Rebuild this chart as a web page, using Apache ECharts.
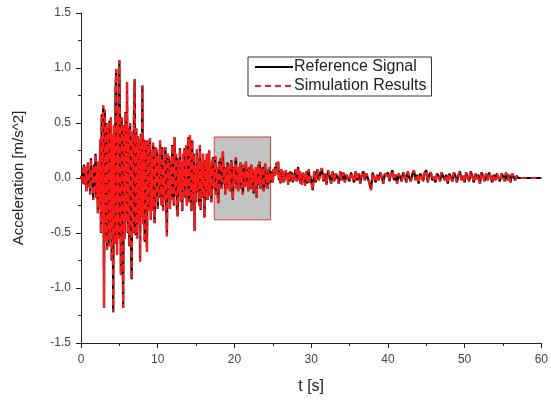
<!DOCTYPE html>
<html>
<head>
<meta charset="utf-8">
<script src="https://cdn.jsdelivr.net/npm/echarts@6/dist/echarts.min.js"></script>
<style>html,body{margin:0;padding:0;background:#fff;}#c{width:551px;height:400px;}</style>
</head>
<body>
<div id="c"></div>
<script>
// Segment A: 0 s to 29.9 s, sampled every 0.1 s
const segAStart = 0, segAStep = 0.1;
const accelA = [
 0.00, 0.02,-0.05, 0.08, 0.12,-0.06, 0.10,-0.12, 0.05, 0.14,-0.08, 0.06,-0.15, 0.18,-0.05, 0.10,-0.20, 0.12,-0.10, 0.22,-0.18, 0.08,-0.32, 0.15,-0.25,
 0.35,-0.50, 0.58,-0.40, 0.66,-1.18, 0.62,-0.55, 0.50,-0.65, 0.45,-0.62, 0.52,-0.50, 0.55,-0.75, 0.40,-1.22, 0.48,-0.60, 0.80, 0.99,-0.70, 0.62,-0.55,
 1.07, 0.30,-0.88, 0.55,-0.45,-1.18, 0.48,-0.55, 0.60,-0.40, 0.87,-0.50, 0.45,-0.62, 0.50,-0.45,-0.92, 0.42,-0.50, 0.55, 0.90,-0.52, 0.45,-0.55, 0.38,
-0.42, 0.35,-0.76, 0.40,-0.35, 0.84,-0.42, 0.35,-0.58, 0.34,-0.35,-0.67, 0.34,-0.30, 0.30, 0.36,-0.38, 0.25,-0.30, 0.32,-0.25,-0.41, 0.28,-0.20, 0.26,
-0.28, 0.20,-0.18, 0.34, 0.05,-0.25, 0.28,-0.30, 0.15,-0.20, 0.28,-0.22,-0.53, 0.22,-0.15, 0.20,-0.28, 0.15,-0.20, 0.30, 0.10,-0.25, 0.37,-0.15, 0.22,
-0.28,-0.35, 0.18,-0.15, 0.27,-0.22, 0.14,-0.30, 0.22,-0.08, 0.27,-0.18, 0.30,-0.25, 0.18, 0.37,-0.22, 0.39, 0.10,-0.30, 0.34,-0.18, 0.22,-0.48, 0.12,
-0.22, 0.26,-0.12, 0.18,-0.25, 0.30,-0.29, 0.14,-0.18, 0.22,-0.06,-0.36, 0.16,-0.12, 0.22,-0.20, 0.10, 0.25,-0.16, 0.12,-0.22, 0.12, 0.19,-0.10, 0.05,
 0.20,-0.15, 0.10,-0.12,-0.23, 0.15,-0.08, 0.18,-0.10, 0.12, 0.24,-0.05, 0.10,-0.15, 0.08,-0.10, 0.14,-0.06, 0.12,-0.12, 0.05, 0.16,-0.08,-0.20, 0.10,
-0.05, 0.12, 0.19,-0.10, 0.08,-0.12, 0.10,-0.04, 0.14,-0.10, 0.06,-0.15, 0.12, 0.02,-0.08, 0.15,-0.06, 0.08,-0.12, 0.10, 0.04,-0.10, 0.12,-0.05, 0.08,
-0.14, 0.06,-0.08, 0.10,-0.18, 0.05, 0.12,-0.06, 0.15,-0.10, 0.08,-0.04, 0.10,-0.12, 0.06, 0.13,-0.08, 0.04,-0.10, 0.08,-0.05, 0.10,-0.04, 0.02, 0.06,
-0.04, 0.08, 0.02, 0.10, 0.05, 0.14, 0.03, 0.15,-0.02, 0.06,-0.05, 0.08, 0.02, 0.06,-0.04, 0.05,-0.02, 0.07, 0.00, 0.04,-0.06, 0.05,-0.03, 0.06, 0.01,
 0.05,-0.04, 0.03,-0.02, 0.06, 0.08,-0.03, 0.04, 0.10,-0.02, 0.06,-0.05, 0.03,-0.06, 0.05,-0.03, 0.04,-0.07, 0.02, 0.06,-0.05, 0.03, 0.08,-0.04, 0.02
];
// Segment B: 30 s to 60 s, sampled every 0.2 s
const segBStart = 30, segBStep = 0.2;
const accelB = [
 0.03,-0.11, 0.06,-0.04, 0.08,-0.02, 0.05, 0.09,-0.03, 0.04,-0.06, 0.07, 0.02,-0.05, 0.06,-0.03, 0.04, 0.01,-0.05, 0.06,-0.02, 0.05,-0.04, 0.03, 0.02,
-0.03, 0.05, 0.01,-0.04, 0.06,-0.02, 0.04,-0.05, 0.03, 0.06,-0.02, 0.04, 0.03,-0.05,-0.11, 0.05, 0.06,-0.04, 0.03,-0.02, 0.05, 0.01,-0.05, 0.04, 0.02,
 0.05,-0.03, 0.04, 0.07,-0.02, 0.03,-0.05, 0.04, 0.01,-0.03, 0.05, 0.02,-0.04, 0.06, 0.00,-0.03, 0.04, 0.07,-0.02, 0.03,-0.05, 0.04, 0.02,-0.03, 0.05,
 0.07,-0.04, 0.03, 0.05,-0.02, 0.01,-0.04, 0.04, 0.02,-0.03, 0.05, 0.06,-0.02, 0.03,-0.05, 0.04, 0.01,-0.03, 0.05, 0.02,-0.04, 0.03, 0.06,-0.02, 0.02,
-0.04, 0.05, 0.01,-0.03, 0.06, 0.02,-0.04, 0.04,-0.01, 0.03,-0.05, 0.05, 0.02,-0.03, 0.04,-0.02, 0.05, 0.01,-0.04, 0.03,-0.02, 0.04, 0.00,-0.03, 0.04,
 0.02,-0.03, 0.05,-0.02, 0.03,-0.04, 0.04, 0.01,-0.02, 0.02, 0.00, 0.00, 0.00, 0.00, 0.00, 0.00, 0.00, 0.00, 0.00, 0.00, 0.00, 0.00, 0.00, 0.00, 0.00, 0.00
];
// Simulation follows the reference signal (curves overlap in the figure)
const referenceSignal = accelA.concat(accelB);
const simulationResults = referenceSignal.slice();

const seriesNames = ['Reference Signal', 'Simulation Results'];
const xTicks = [0, 10, 20, 30, 40, 50, 60];
const yTicks = [-1.5, -1.0, -0.5, 0.0, 0.5, 1.0, 1.5];
const zoomBox = { t0: 17.37, t1: 24.7, a0: -0.38, a1: 0.373 };

const times = [];
accelA.forEach((v, i) => times.push(+(segAStart + i * segAStep).toFixed(2)));
accelB.forEach((v, i) => times.push(+(segBStart + i * segBStep).toFixed(2)));
const refData = referenceSignal.map((v, i) => [times[i], v]);
const simData = simulationResults.map((v, i) => [times[i], v]);

const FONT = '"Liberation Sans", Arial, sans-serif';
const chart = echarts.init(document.getElementById('c'), null, { renderer: 'canvas' });
chart.setOption({
  animation: false,
  backgroundColor: '#ffffff',
  textStyle: { fontFamily: FONT },
  grid: { left: 81, right: 9, top: 13, bottom: 55, containLabel: false },
  legend: {
    data: seriesNames,
    orient: 'vertical',
    left: 248, top: 57,
    padding: [2, 5, 2, 6],
    itemGap: 3,
    itemWidth: 38, itemHeight: 14,
    borderColor: '#333', borderWidth: 1,
    backgroundColor: '#fff',
    itemStyle: { opacity: 0 },
    textStyle: { fontSize: 16, color: '#222', fontFamily: FONT, padding: [0, 0, 0, -4] }
  },
  xAxis: {
    type: 'value', min: xTicks[0], max: xTicks[xTicks.length - 1], interval: 10,
    name: 't [s]', nameLocation: 'middle', nameGap: 36,
    nameTextStyle: { fontSize: 16, color: '#222', fontFamily: FONT },
    axisLine: { show: true, onZero: false, lineStyle: { color: '#222', width: 1 } },
    axisTick: { show: true, inside: false, length: 5, lineStyle: { color: '#222' } },
    minorTick: { show: true, splitNumber: 2, length: 3, lineStyle: { color: '#222' } },
    splitLine: { show: false },
    axisLabel: { fontSize: 12, color: '#444', margin: 11, fontFamily: FONT }
  },
  yAxis: {
    type: 'value', min: yTicks[0], max: yTicks[yTicks.length - 1], interval: 0.5,
    name: 'Acceleration [m/s^2]', nameLocation: 'middle', nameGap: 55, nameRotate: 90,
    nameTextStyle: { fontSize: 15, color: '#222', fontFamily: FONT },
    axisLine: { show: true, onZero: false, lineStyle: { color: '#222', width: 1 } },
    axisTick: { show: true, inside: false, length: 5, lineStyle: { color: '#222' } },
    minorTick: { show: true, splitNumber: 2, length: 3, lineStyle: { color: '#222' } },
    splitLine: { show: false },
    axisLabel: { fontSize: 12, color: '#444', margin: 10, fontFamily: FONT,
      formatter: v => v.toFixed(1) }
  },
  series: [
    {
      name: seriesNames[0], type: 'line', data: refData,
      symbol: 'none', showSymbol: false, sampling: false,
      lineStyle: { color: '#000', width: 2.2, type: 'solid' },
      itemStyle: { color: '#000' },
      markArea: {
        silent: true,
        itemStyle: { color: '#c3c3c3', borderColor: '#e0403c', borderWidth: 1, opacity: 1 },
        data: [[{ xAxis: zoomBox.t0, yAxis: zoomBox.a1 }, { xAxis: zoomBox.t1, yAxis: zoomBox.a0 }]]
      },
      z: 2
    },
    {
      name: seriesNames[1], type: 'line', data: simData,
      symbol: 'none', showSymbol: false,
      lineStyle: { color: '#ff1a1a', width: 2.2, type: [6, 4] },
      itemStyle: { color: '#ff1a1a' },
      z: 3
    }
  ]
});
</script>
</body>
</html>
